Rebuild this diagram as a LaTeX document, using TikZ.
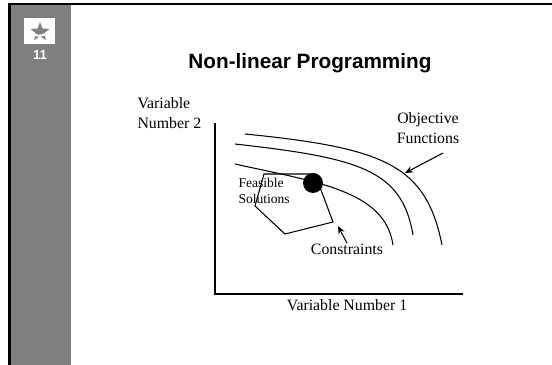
\documentclass[tikz,border=0pt]{standalone}
\usepackage{fontspec}
\setmainfont{Liberation Serif}
\newfontfamily\headfont{Liberation Sans}
\usetikzlibrary{arrows.meta}
\definecolor{sidegray}{gray}{0.5}

\begin{document}
\begin{tikzpicture}[x=0.02cm, y=-0.02cm, line width=0.6pt,
	axisname/.style = {font=\fontsize{9}{11.3}\selectfont, inner sep=0pt},
	pointer/.style = {-{Stealth[length=4.5pt, width=3.8pt]}}]
	\useasboundingbox (0,0) rectangle (552,365);
	
	% side bar with slide number
	\fill[sidegray] (10,3) rectangle (71,365);
	\draw[line width=1.4pt] (9.5,365) -- (9.5,3.8) -- (552,3.8);
	\fill[white] (24,18) rectangle (55,44);
	\foreach \k in {0,...,4} {
		\coordinate (so\k) at ({40+10*cos(90+72*\k)},{32-10*sin(90+72*\k)});
		\coordinate (si\k) at ({40+4.2*cos(126+72*\k)},{32-4.2*sin(126+72*\k)});
	}
	\fill[sidegray] (so0) -- (si0) -- (so1) -- (si1) -- (so2) -- (si2) -- (so3) -- (si3) -- (so4) -- (si4) -- cycle;
	\draw[white, line width=1.2pt] (29,31) .. controls (37,38) and (44,37) .. (52,29);
	\node[font=\headfont\bfseries\fontsize{7.5}{8}\selectfont, text=white] (slidenum) at (40,55) {11};
	
	\node[font=\headfont\bfseries\fontsize{11.8}{14}\selectfont] (title) at (310,63) {Non-linear Programming};
	
	% axes
	\coordinate (ytop) at (215,123);
	\coordinate (origin) at (215,294);
	\coordinate (xend) at (463,294);
	\draw (ytop) -- (origin) -- (xend);
	\node[axisname, align=left, anchor=west] (yname) at (137,113) {Variable\\Number 2};
	\node[axisname] (xname) at (347,305) {Variable Number 1};
	
	% objective function contours
	\draw (245,134) .. controls (385,148) and (426,165) .. (442,245);
	\draw (235,144) .. controls (360,158) and (402,170) .. (413,235);
	\draw (235,164) .. controls (315,182) and (385,190) .. (393,245);
	
	% feasible region and optimum
	\draw (264,174) -- (315,174) -- (333,222) -- (285,234) -- (255,206) -- cycle;
	\fill (313,183) circle [radius=10];
	\node[font=\fontsize{7.7}{9.1}\selectfont, align=left, anchor=west, inner sep=0pt] (feasname) at (238,191) {Feasible\\Solutions};
	
	\node[axisname, align=center] (objname) at (428,128) {Objective\\Functions};
	\coordinate (objtail) at (443,153);
	\coordinate (objtip) at (405,173);
	\draw[pointer] (objtail) -- (objtip);
	
	\node[axisname] (conname) at (347,249) {Constraints};
	\coordinate (contip) at (338,226);
	\draw[pointer] (conname.north) -- (contip);
\end{tikzpicture}
\end{document}
